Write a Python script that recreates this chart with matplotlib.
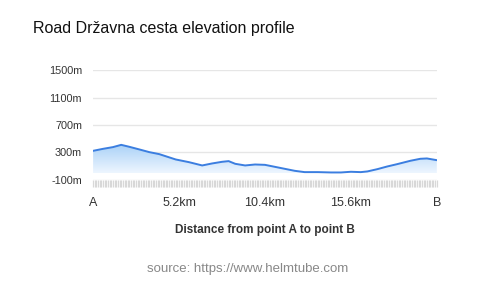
import numpy as np
import matplotlib.pyplot as plt
from matplotlib.ticker import MultipleLocator
from matplotlib.colors import LinearSegmentedColormap

# distance (km) and elevation (m)
distance_km = [0.0, 0.6, 1.2, 1.7, 2.2, 2.8, 3.4, 4.0, 5.0, 5.8, 6.6, 7.2, 7.8, 8.2,
               8.6, 9.2, 9.8, 10.4, 11.0, 11.6, 12.2, 12.8, 13.6, 14.4, 15.0, 15.6,
               16.2, 16.6, 17.2, 17.8, 18.4, 19.2, 19.8, 20.2, 20.8]
elevation_m = [324, 353, 378, 411, 382, 344, 305, 276, 198, 159, 111, 140, 164, 174,
               135, 111, 125, 120, 91, 62, 33, 14, 14, 9, 9, 19, 14, 24, 57, 96,
               130, 179, 208, 213, 188]
y_ticks = [-100, 300, 700, 1100, 1500]
x_ticks = [0, 5.2, 10.4, 15.6, 20.8]
x_labels = ['A', '5.2km', '10.4km', '15.6km', 'B']

plt.rcParams['font.family'] = ['Liberation Sans', 'DejaVu Sans']

fig = plt.figure(figsize=(4.8, 2.87), dpi=100)
ax = fig.add_axes([0.194, 0.373, 0.716, 0.383])

x = np.array(distance_km)
y = np.array(elevation_m)

# gradient fill under the line
poly = ax.fill_between(x, y, 0, color='none')
grad = np.linspace(0, 1, 256).reshape(-1, 1)
cmap = LinearSegmentedColormap.from_list('g', ['#eef6ff', '#a9d1f7'])
img = ax.imshow(grad, cmap=cmap, aspect='auto', extent=[x[0], x[-1], 0, y.max()],
                origin='lower', zorder=1)
img.set_clip_path(poly.get_paths()[0], transform=ax.transData)

ax.plot(x, y, color='#3b7ee0', linewidth=1.4, zorder=3)

ax.set_xlim(0, 20.8)
ax.set_ylim(-100, 1500)
ax.set_yticks(y_ticks)
ax.set_yticklabels([f'{v}m' for v in y_ticks])
ax.set_xticks(x_ticks)
ax.set_xticklabels(x_labels)
ax.xaxis.set_minor_locator(MultipleLocator(0.1))

ax.grid(axis='y', color='#e6e6e6', linewidth=1)
ax.set_axisbelow(True)
for s in ax.spines.values():
    s.set_visible(False)
ax.tick_params(axis='y', length=0, labelsize=7.8, colors='#333333', pad=8)
ax.tick_params(axis='x', which='major', length=5, color='#d8d8d8', width=0.9,
               labelsize=9, labelcolor='#333333', pad=7)
ax.tick_params(axis='x', which='minor', length=5, color='#d8d8d8', width=0.9)

ax.set_xlabel('Distance from point A to point B', fontsize=8.5, fontweight='bold',
              color='#333333', labelpad=11)

fig.text(0.069, 0.9, 'Road Državna cesta elevation profile', fontsize=11.5,
         color='#111111', va='center')
fig.text(0.515, 0.062, 'source: https://www.helmtube.com', fontsize=9.5,
         color='#888888', ha='center', va='center')

fig.savefig('out.png', dpi=100)
